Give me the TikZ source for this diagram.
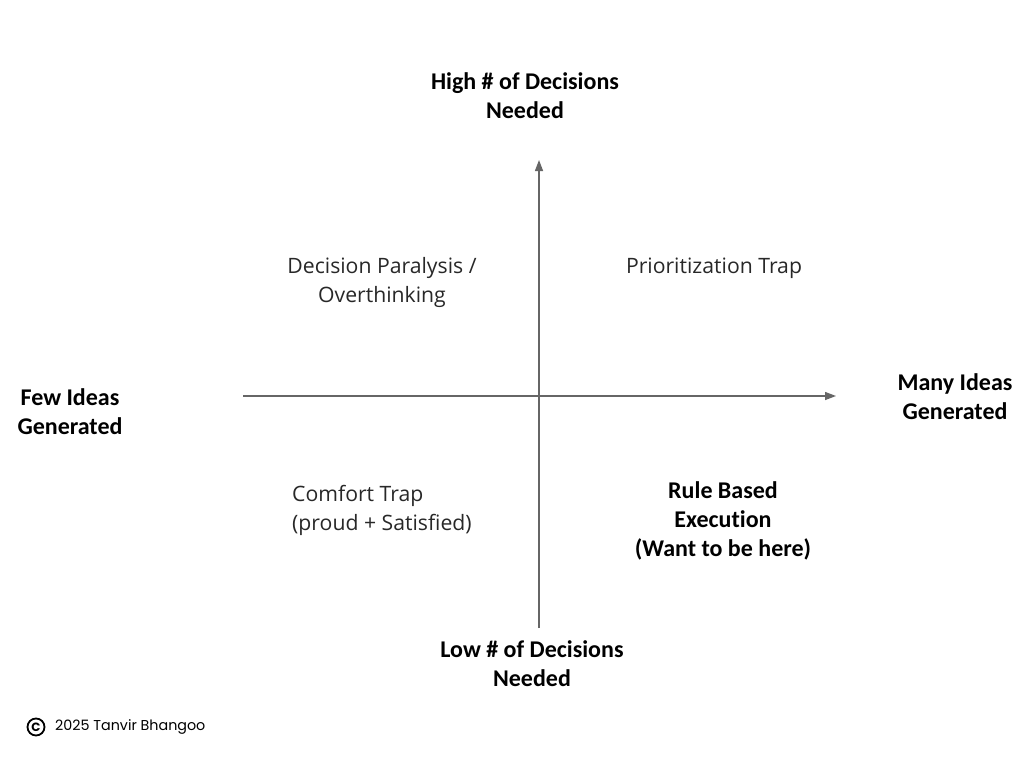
\documentclass[tikz,border=0pt]{standalone}
\usepackage{fontspec}
\setmainfont{Open Sans}[Ligatures=NoCommon]
\newfontfamily\boldlbl{Carlito}[BoldFont=Carlito Bold, Ligatures=NoCommon]
\newfontfamily\popfont{Poppins}
\usetikzlibrary{arrows.meta}
\definecolor{axisgray}{HTML}{666666}
\definecolor{txt}{HTML}{282828}
\tikzset{
  axis/.style={draw=axisgray, line width=1.3pt, -{Triangle[length=11pt,width=8pt]}},
  bl/.style={align=center, font=\boldlbl\bfseries\fontsize{24}{29}\selectfont, text=black, inner sep=0pt},
  ql/.style={align=center, font=\fontsize{21.2}{29}\selectfont, text=txt, inner sep=0pt},
  qll/.style={align=left, font=\fontsize{21.2}{29}\selectfont, text=txt, inner sep=0pt},
}
\begin{document}
\begin{tikzpicture}[x=1pt,y=-1pt]
\useasboundingbox[fill=white] (0,0) rectangle (1024,768);
\coordinate (vb) at (539,628);
\coordinate (vt) at (539,160);
\coordinate (hl) at (243,396);
\coordinate (hr) at (836,396);
\draw[axis] (vb) -- (vt);
\draw[axis] (hl) -- (hr);
\node[bl] (top) at (525,95.5) {High \# of Decisions\\Needed};
\node[bl] (bot) at (532,663.5) {Low \# of Decisions\\Needed};
\node[bl] (left) at (70,411.5) {Few Ideas\\Generated};
\node[bl] (right) at (955,396.5) {Many Ideas\\Generated};
\node[ql] (q1) at (382,282.5) {Decision Paralysis /\\Overthinking};
\node[ql] (q2) at (714,268) {Prioritization Trap};
\node[qll, anchor=west] (q3) at (292,510.5) {Comfort Trap\\(proud + Satisfied)};
\node[bl] (q4) at (723,520.5) {Rule Based\\Execution\\(Want to be here)};
\node[circle, draw=black, line width=1.8pt, minimum size=17pt, inner sep=0pt,
      font=\popfont\bfseries\fontsize{12}{12}\selectfont] (csym) at (36,727) {C};
\node[anchor=west, inner sep=0pt, font=\popfont\fontsize{14.3}{16}\selectfont, text=black] (copy) at (55,727) {2025 Tanvir Bhangoo};
\end{tikzpicture}
\end{document}
